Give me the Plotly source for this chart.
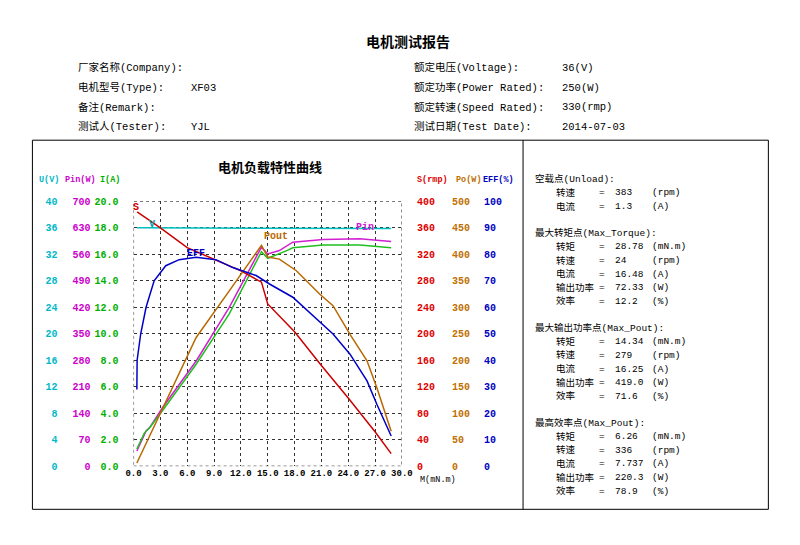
import plotly.graph_objects as go

# torque axis (mN.m)
V_x = [0.4, 1.5, 3.0, 10.0, 21.0, 21.5, 28.8]
V_y = [36.0, 36.0, 36.0, 36.0, 36.0, 35.9, 35.9]

S_x = [0.4, 3.0, 6.0, 9.0, 12.0, 14.3, 15.0, 18.0, 21.0, 24.0, 27.0, 28.8]
S_y = [384, 360, 330, 312, 295, 278, 245, 203, 152, 103, 52, 19]

EFF_x = [0.37, 0.4, 0.8, 1.4, 2.3, 3.6, 5.1, 7.0, 9.2, 11.1, 13.7, 15.2, 17.8, 20.8, 22.3, 24.2, 26.1, 27.2, 28.8]
EFF_y = [29, 40, 50, 60, 70, 75.7, 78, 78.9, 78, 75, 72, 68.8, 63.8, 54.3, 49.9, 42.3, 32.2, 23.4, 11.4]

Pin_x = [0.37, 1.2, 1.4, 1.8, 3.25, 7.0, 10.7, 14.3, 15.0, 16.3, 17.8, 21.2, 25.3, 28.8]
Pin_y = [40, 80, 93, 102, 155, 278, 420, 579, 561, 570, 592, 599, 601, 594]

I_x = [0.37, 1.2, 1.8, 3.25, 7.0, 10.7, 14.3, 15.0, 17.2, 17.8, 21.2, 25.3, 28.8]
I_y = [1.3, 2.5, 2.9, 4.2, 7.7, 11.5, 16.2, 15.7, 16.3, 16.5, 16.7, 16.7, 16.5]

Po_x = [0.37, 3.25, 7.0, 10.7, 14.3, 15.0, 16.3, 18.2, 20.8, 22.3, 24.2, 26.1, 27.2, 28.8]
Po_y = [6, 110, 243, 331, 417, 395, 391, 369, 325, 303, 249, 199, 148, 66]

header_rows = [
    ("厂家名称(Company):", "", "额定电压(Voltage):", "36(V)"),
    ("电机型号(Type):", "XF03", "额定功率(Power Rated):", "250(W)"),
    ("备注(Remark):", "", "额定转速(Speed Rated):", "330(rmp)"),
    ("测试人(Tester):", "YJL", "测试日期(Test Date):", "2014-07-03"),
]
side_blocks = [
    ("空载点(Unload):", [("转速", "383", "(rpm)"), ("电流", "1.3", "(A)")]),
    ("最大转矩点(Max_Torque):", [("转矩", "28.78", "(mN.m)"), ("转速", "24", "(rpm)"),
                                 ("电流", "16.48", "(A)"), ("输出功率", "72.33", "(W)"), ("效率", "12.2", "(%)")]),
    ("最大输出功率点(Max_Pout):", [("转矩", "14.34", "(mN.m)"), ("转速", "279", "(rpm)"),
                                  ("电流", "16.25", "(A)"), ("输出功率", "419.0", "(W)"), ("效率", "71.6", "(%)")]),
    ("最高效率点(Max_Pout):", [("转矩", "6.26", "(mN.m)"), ("转速", "336", "(rpm)"),
                              ("电流", "7.737", "(A)"), ("输出功率", "220.3", "(W)"), ("效率", "78.9", "(%)")]),
]

W, H = 800, 545
FONT = "SimSun, Liberation Mono, Noto Sans CJK SC"
C_U, C_PIN, C_I = "#00b8c8", "#cc00cc", "#00b000"
C_S, C_PO, C_EFF = "#dd0000", "#c07000", "#0000c0"


# map reference-pixel positions to paper fractions (corrects page offset/scale)
def px(x):
    return ((x - 16.6) / 0.975) / W


def py(y):
    return 1 - ((y - 13.2) / 0.975) / H


fig = go.Figure()
line_kw = dict(mode="lines", hoverinfo="skip")
fig.add_trace(go.Scatter(x=V_x, y=V_y, yaxis="y", line=dict(color="#00c0c0", width=1.5), **line_kw))
fig.add_trace(go.Scatter(x=Pin_x, y=Pin_y, yaxis="y2", line=dict(color="#d020d0", width=1.5), **line_kw))
fig.add_trace(go.Scatter(x=I_x, y=I_y, yaxis="y3", line=dict(color="#20c020", width=1.5), **line_kw))
fig.add_trace(go.Scatter(x=S_x, y=S_y, yaxis="y4", line=dict(color="#cc0000", width=1.5), **line_kw))
fig.add_trace(go.Scatter(x=Po_x, y=Po_y, yaxis="y5", line=dict(color="#b86800", width=1.5), **line_kw))
fig.add_trace(go.Scatter(x=EFF_x, y=EFF_y, yaxis="y6", line=dict(color="#0000c8", width=1.5), **line_kw))

dom_y = [py(465), py(201)]
tf = dict(family=FONT, size=10, weight="bold")


def yax(rng, dtick, color, pos, side, fmt=None, grid=False):
    d = dict(range=rng, dtick=dtick, tick0=0, domain=dom_y, anchor="free", position=pos,
             side=side, showline=False, zeroline=False, ticks="", showgrid=grid,
             tickfont=dict(tf, color=color))
    if grid:
        d.update(gridcolor="#333", griddash="dot", gridwidth=1)
    if fmt:
        d["tickformat"] = fmt
    return d


fig.update_layout(
    width=W, height=H, showlegend=False, plot_bgcolor="white", paper_bgcolor="white",
    margin=dict(l=0, r=0, t=0, b=0), font=dict(family=FONT, size=11, color="black"),
    xaxis=dict(domain=[px(134), px(402)], range=[0, 30], dtick=3, tickformat=".1f",
               showgrid=True, gridcolor="#333", griddash="dot", zeroline=False,
               showline=False, ticks="", tickangle=0,
               tickfont=dict(family=FONT, size=9, weight="bold", color="black")),
    yaxis=yax([0, 40], 4, C_U, px(58), "left", grid=True),
    yaxis2=dict(yax([0, 700], 70, C_PIN, px(91), "left"), overlaying="y"),
    yaxis3=dict(yax([0, 20], 2, C_I, px(119), "left", ".1f"), overlaying="y"),
    yaxis4=dict(yax([0, 400], 40, C_S, px(416), "right"), overlaying="y"),
    yaxis5=dict(yax([0, 500], 50, C_PO, px(451), "right"), overlaying="y"),
    yaxis6=dict(yax([0, 100], 10, C_EFF, px(483), "right"), overlaying="y"),
)

shapes = [
    dict(type="rect", xref="paper", yref="paper", x0=px(33), x1=px(768), y0=py(508), y1=py(140),
         line=dict(color="black", width=1)),
    dict(type="line", xref="paper", yref="paper", x0=px(523), x1=px(523), y0=py(508), y1=py(140),
         line=dict(color="black", width=1)),
    dict(type="rect", xref="x", yref="y", x0=0, x1=30, y0=0, y1=40, line=dict(color="#333", width=1, dash="dot")),
]

ann = []


def txt(x, y, s, color="black", size=11, bold=False, xanchor="left"):
    ann.append(dict(x=px(x), y=py(y), xref="paper", yref="paper", text=s, showarrow=False,
                    xanchor=xanchor, yanchor="middle", borderpad=0,
                    font=dict(family=FONT, size=size, color=color, weight="bold" if bold else "normal")))


txt(408, 43, "电机测试报告", size=14, bold=True, xanchor="center")
for i, (a, b, c, d) in enumerate(header_rows):
    y = 68 + i * 19.5
    txt(78, y, a, size=10.5)
    txt(190, y, b, size=10.5)
    txt(413, y, c, size=10.5)
    txt(561, y, d, size=10.5)

txt(270, 168, "电机负载特性曲线", size=13, bold=True, xanchor="center")
for x, s, c in [(39, "U(V)", C_U), (65, "Pin(W)", C_PIN), (99, "I(A)", C_I),
                (416, "S(rmp)", C_S), (455, "Po(W)", C_PO), (482, "EFF(%)", C_EFF)]:
    txt(x, 180, s, color=c, size=8.5, bold=True)
txt(419, 479, "M(mN.m)", size=8.5)

y = 179
for title, rows in side_blocks:
    txt(534, y, title, size=9.5)
    y += 13.6
    for a, b, c in rows:
        txt(555, y, a, size=9.5)
        txt(598, y, "=", size=9.5)
        txt(614, y, b, size=9.5)
        txt(651, y, c, size=9.5)
        y += 13.6
    y += 13

for x, yv, s, c, ax in [(0.3, 380, "S", "#cc0000", "y4"), (2.1, 35.3, "V", "#00a0b0", "y"),
                        (7.0, 77.5, "EFF", "#0000c8", "y6"), (15.9, 420, "Pout", "#b86800", "y5"),
                        (25.9, 610, "Pin", "#d020d0", "y2")]:
    ann.append(dict(x=x, y=yv, xref="x", yref=ax, text=s, showarrow=False, xanchor="center",
                    yanchor="bottom", font=dict(family=FONT, size=10, color=c, weight="bold")))

fig.update_layout(shapes=shapes, annotations=ann)
fig.write_html("out.html")
